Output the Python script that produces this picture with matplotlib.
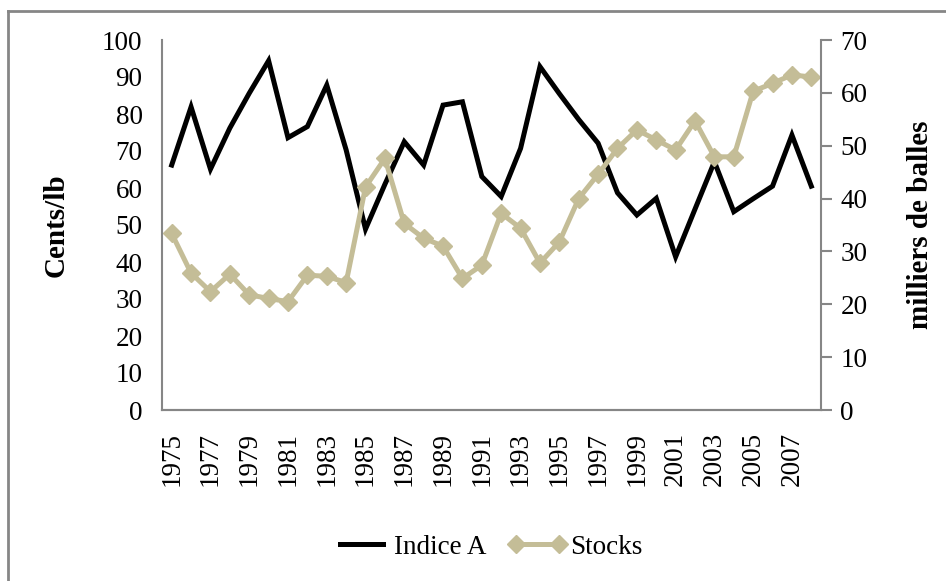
import numpy as np
import matplotlib
matplotlib.use('Agg')
from matplotlib import pyplot as plt
from matplotlib.lines import Line2D

# data
years = list(range(1975, 2009))
indice_a = [66.2, 81.9, 65.1, 76.2, 85.6, 94.4, 73.6, 76.6, 87.8, 70.3,
            48.9, 61.0, 72.5, 66.2, 82.4, 83.3, 63.1, 57.7, 70.7, 92.8,
            85.5, 78.5, 72.1, 58.7, 52.7, 57.2, 41.4, 54.3, 67.1, 53.6,
            57.1, 60.5, 74.3, 60.5]
stocks = [33.4, 25.9, 22.4, 25.7, 21.8, 21.1, 20.5, 25.5, 25.3, 24.1,
          42.2, 47.6, 35.3, 32.5, 31.0, 24.9, 27.4, 37.2, 34.4, 27.8,
          31.8, 40.0, 44.6, 49.5, 53.0, 51.1, 49.2, 54.7, 47.9, 47.9,
          60.3, 61.8, 63.4, 63.0]
left_ticks = list(range(0, 101, 10))
right_ticks = list(range(0, 71, 10))

plt.rcParams['font.family'] = ['Liberation Serif', 'DejaVu Serif']
FS = 19.5
LFS = 21
GRAY = '#868686'
TAN = '#C4BD97'

fig = plt.figure(figsize=(9.46, 5.81), dpi=100)
W, H = 946, 581
ax = fig.add_axes([162 / W, 1 - 410 / H, (821 - 162) / W, (410 - 40) / H])
ax2 = ax.twinx()

x = np.arange(len(years))
ax.plot(x, indice_a, color='black', lw=3.6, solid_joinstyle='miter', label='Indice A')
ax2.plot(x, stocks, color=TAN, lw=3.6, marker='D', markersize=9, label='Stocks')

ax.set_xlim(-0.5, len(years) - 0.5)
ax.set_ylim(0, 100)
ax2.set_ylim(0, 70)
ax.set_yticks(left_ticks)
ax2.set_yticks(right_ticks)
ax.set_xticks(x[::2])
ax.set_xticklabels([str(y) for y in years[::2]], rotation=90, fontsize=FS)
ax.tick_params(axis='y', length=0, labelsize=FS, pad=14)
ax.tick_params(axis='x', length=0, pad=16)
ax2.tick_params(axis='y', length=8, width=1.5, color=GRAY, labelsize=FS, pad=6)

for a in (ax, ax2):
    a.spines['top'].set_visible(False)
    for s in ('left', 'right', 'bottom'):
        a.spines[s].set_color(GRAY)
        a.spines[s].set_linewidth(1.5)
ax.spines['right'].set_visible(False)
ax2.spines['left'].set_visible(False)

ax.set_ylabel('Cents/lb', fontsize=LFS, fontweight='bold')
ax.yaxis.set_label_coords(-0.14, 0.5)
ax2.set_ylabel('milliers de balles', fontsize=LFS, fontweight='bold')
ax2.yaxis.set_label_coords(1.13, 0.5)

handles = [Line2D([], [], color='black', lw=3.6),
           Line2D([], [], color=TAN, lw=3.6, marker='D', markersize=9)]
fig.legend(handles, ['Indice A', 'Stocks'], loc='center', bbox_to_anchor=(487 / W, 1 - 547 / H),
           ncol=2, frameon=False, fontsize=FS, handlelength=2.2, handletextpad=0.1,
           columnspacing=0.8, numpoints=2)

# chart-area border
fig.add_artist(Line2D([8 / W, 8 / W], [0, 1 - 11 / H], color=GRAY, lw=2, transform=fig.transFigure))
fig.add_artist(Line2D([8 / W, 1], [1 - 11 / H, 1 - 11 / H], color=GRAY, lw=2, transform=fig.transFigure))

fig.savefig('out.png', dpi=100)
